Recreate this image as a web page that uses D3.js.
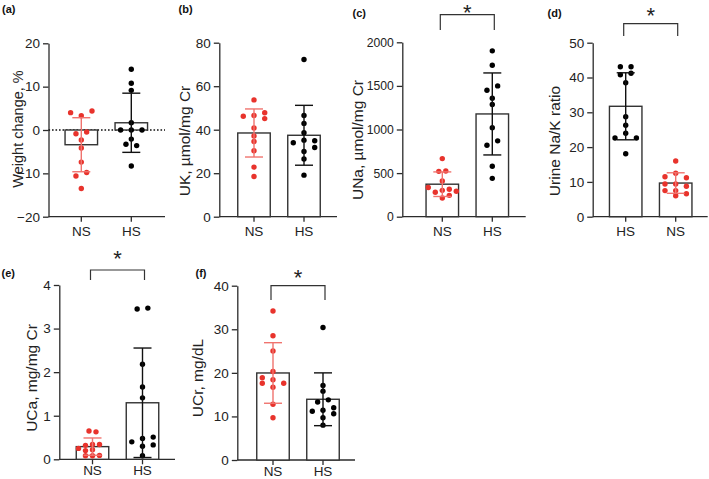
<!DOCTYPE html>
<html><head><meta charset="utf-8">
<script src="https://cdn.jsdelivr.net/npm/d3@7"></script>
<style>
body{margin:0;background:#fff}
svg{display:block;font-family:"Liberation Sans",Arial,Helvetica,sans-serif}
</style>
</head><body>
<svg id="chart" width="709" height="479"></svg>
<script>
// ---------- data ----------
const groups = ["NS", "HS"];
const groupsRatio = ["HS", "NS"];

const weightNS = [3.3, 4.0, 4.4, -0.46, -0.85, -2.3, -4.15, -7.4, -9.8, -10.6, -13.5];
const weightHS = [14.0, 10.8, 9.15, 1.7, 0.0, 0.0, 0.0, -2.1, -3.6, -3.3, -8.3];
const ukNS = [53.7, 46.5, 46.2, 47.8, 45.1, 40.8, 37.1, 34.6, 30.3, 22.8, 18.5];
const ukHS = [72.3, 46.5, 42.9, 38.6, 35.2, 34.0, 34.9, 30.0, 31.8, 26.5, 19.1];
const unaNS = [666, 524, 520, 409, 302, 280, 314, 335, 291, 245, 214];
const unaHS = [1902, 1737, 1500, 1450, 1358, 1286, 1021, 870, 820, 578, 440];
const ratioHS = [43.1, 43.1, 41.2, 40.8, 38.5, 28.7, 26.3, 24.0, 22.6, 22.6, 18.1];
const ratioNS = [16.0, 12.5, 11.5, 11.2, 9.4, 9.4, 8.75, 7.5, 7.5, 6.0, 6.6];
const ucaNS = [0.63, 0.65, 0.34, 0.32, 0.34, 0.25, 0.22, 0.20, 0.08, 0.08, 0.09];
const ucaHS = [3.47, 3.45, 2.18, 1.66, 1.41, 0.48, 0.40, 0.51, 0.30, 0.33, 0.08];
const ucrNS = [34.2, 28.5, 25.0, 20.3, 18.4, 18.9, 17.6, 17.6, 16.7, 12.8, 9.7];
const ucrHS = [30.4, 17.1, 15.8, 13.8, 13.3, 11.4, 11.2, 12.0, 10.6, 9.7, 8.0];

const ticksA = [-20, -10, 0, 10, 20];
const ticksB = [0, 20, 40, 60, 80];
const ticksC = [0, 500, 1000, 1500, 2000];
const ticksD = [0, 10, 20, 30, 40, 50];
const ticksE = [0, 1, 2, 3, 4];
const ticksF = [0, 10, 20, 30, 40];

const panelLabels = ["(a)", "(b)", "(c)", "(d)", "(e)", "(f)"];
const axisTitles = ["Weight change, %", "UK, µmol/mg Cr", "UNa, µmol/mg Cr", "Urine Na/K ratio", "UCa, mg/mg Cr", "UCr, mg/dL"];
const significant = [false, false, true, true, true, true];

// ---------- layout ----------
const colors = {NS: "#e8332c", HS: "#000000"};
const errColors = {NS: "#f0736e", HS: "#111111"};
const layout = [
  {ax: 48.5, inset: 32.8, xEnd: 165, yTop: 43.3, yBot: 216.7, titleX: 18, titleY: 129, titleF: 14.5, lab: [2, 13], tf: 13.5, zero: true},
  {ax: 219.3, inset: 34.7, xEnd: 337, yTop: 42.7, yBot: 216.7, titleX: 185, titleY: 141, titleF: 15.5, lab: [178.5, 13], tf: 13.5},
  {ax: 402.3, inset: 40, xEnd: 525.7, yTop: 42.3, yBot: 216.7, titleX: 358, titleY: 140, titleF: 15.5, lab: [352.5, 17], tf: 12.2, br: 14.7, drop: 30, star: 7.5},
  {ax: 592.7, inset: 33, xEnd: 707.7, yTop: 42.7, yBot: 216.7, titleX: 555, titleY: 141, titleF: 15.5, lab: [547.5, 17], tf: 13.5, br: 23.7, drop: 36, star: 10.8},
  {ax: 59.3, inset: 33.2, xEnd: 175, yTop: 285, yBot: 459.3, titleX: 31.7, titleY: 378, titleF: 15.5, lab: [1.5, 277], tf: 13.5, br: 270, drop: 280, star: 253.3, xlab: 475.5},
  {ax: 237.3, inset: 35.7, xEnd: 355, yTop: 285.7, yBot: 460, titleX: 197.7, titleY: 378, titleF: 15.5, lab: [195.5, 277], tf: 13.5, br: 285.7, drop: 300, star: 272.3, xlab: 475.5}
];

const panels = [
  {cats: groups, series: {NS: weightNS, HS: weightHS}, ticks: ticksA},
  {cats: groups, series: {NS: ukNS, HS: ukHS}, ticks: ticksB},
  {cats: groups, series: {NS: unaNS, HS: unaHS}, ticks: ticksC},
  {cats: groupsRatio, series: {HS: ratioHS, NS: ratioNS}, ticks: ticksD},
  {cats: groups, series: {NS: ucaNS, HS: ucaHS}, ticks: ticksE},
  {cats: groups, series: {NS: ucrNS, HS: ucrHS}, ticks: ticksF}
];

const svg = d3.select("#chart");
svg.append("rect").attr("width", 709).attr("height", 479).attr("fill", "#fff");

const AXIS = "#2b2b2b";
const DOT_R = 2.7, MIN_D = 5.1, STEP = 10.7, HALF_W = 14;

// Scatter layout: spread overlapping points sideways in columns
function swarm(vals, y) {
  const pts = vals.map(v => ({v, py: y(v), k: 0}));
  const order = [0, -1, 1, -2, 2, -3, 3];
  const placed = [];
  pts.forEach(p => {
    for (const k of order) {
      if (!placed.some(q => q.k === k && Math.abs(q.py - p.py) < MIN_D)) { p.k = k; break; }
    }
    placed.push(p);
  });
  const parent = d3.range(pts.length);
  const find = i => parent[i] === i ? i : (parent[i] = find(parent[i]));
  for (let i = 0; i < pts.length; i++)
    for (let j = i + 1; j < pts.length; j++)
      if (Math.abs(pts[i].py - pts[j].py) < MIN_D) parent[find(i)] = find(j);
  const comps = d3.group(d3.range(pts.length), i => find(i));
  comps.forEach(idx => {
    if (idx.length < 2) return;
    const clique = idx.every(i => idx.every(j => Math.abs(pts[i].py - pts[j].py) < MIN_D));
    if (clique) {
      const m = d3.mean(idx, i => pts[i].k);
      idx.forEach(i => pts[i].k -= m);
    }
  });
  const maxK = d3.max(pts, p => Math.abs(p.k));
  const s = maxK > 0 ? Math.min(STEP, HALF_W / maxK) : 0;
  pts.forEach(p => p.dx = p.k * s);
  return pts;
}

panels.forEach((p, pi) => {
  const L = layout[pi];
  const g = svg.append("g");
  const y = d3.scaleLinear().domain(d3.extent(p.ticks)).range([L.yBot, L.yTop]);
  const x = d3.scaleBand().domain(p.cats)
    .range([L.ax + L.inset - 16.25, L.ax + L.inset + 50 + 16.25])
    .paddingInner(0.35).paddingOuter(0);
  const bw = x.bandwidth();

  // y axis
  const yAxis = d3.axisLeft(y).tickValues(p.ticks).tickSize(5.5).tickSizeOuter(0).tickPadding(3).tickFormat(d3.format("d"));
  const ya = g.append("g").attr("transform", `translate(${L.ax},0)`).call(yAxis);
  ya.attr("font-family", null);
  ya.select(".domain").attr("stroke", AXIS).attr("stroke-width", 1.3);
  ya.selectAll(".tick line").attr("stroke", AXIS).attr("stroke-width", 1.3);
  ya.selectAll(".tick text").attr("font-size", L.tf).attr("fill", "#222");

  // x axis baseline and ticks
  g.append("line").attr("x1", L.ax).attr("x2", L.xEnd).attr("y1", L.yBot).attr("y2", L.yBot)
    .attr("stroke", AXIS).attr("stroke-width", 1.3);
  const xAxis = d3.axisBottom(x).tickSize(5).tickSizeOuter(0).tickPadding(5);
  const xa = g.append("g").attr("transform", `translate(0,${L.yBot})`).call(xAxis);
  xa.attr("font-family", null);
  xa.select(".domain").remove();
  xa.selectAll(".tick line").attr("stroke", AXIS).attr("stroke-width", 1.3);
  const xt = xa.selectAll(".tick text").attr("font-size", 13.5).attr("fill", "#222");
  if (L.xlab) xt.attr("y", L.xlab - L.yBot).attr("dy", null);

  // zero reference line
  if (L.zero) {
    g.append("line").attr("x1", L.ax).attr("x2", L.xEnd).attr("y1", y(0)).attr("y2", y(0))
      .attr("stroke", "#111").attr("stroke-width", 1.6).attr("stroke-dasharray", "1.6,1.9");
  }

  // bars (mean)
  p.cats.forEach(c => {
    const vals = p.series[c];
    const m = d3.mean(vals);
    g.append("rect")
      .attr("x", x(c)).attr("width", bw)
      .attr("y", Math.min(y(m), y(0))).attr("height", Math.abs(y(m) - y(0)))
      .attr("fill", "#fff").attr("stroke", "#333").attr("stroke-width", 1.4);
  });

  // dots
  p.cats.forEach(c => {
    const cx = x(c) + bw / 2;
    const pts = swarm(p.series[c], y);
    g.append("g").selectAll("circle").data(pts).join("circle")
      .attr("cx", d => cx + d.dx).attr("cy", d => d.py).attr("r", DOT_R)
      .attr("fill", colors[c]);
  });

  // error bars (mean ± SD)
  p.cats.forEach(c => {
    const vals = p.series[c];
    const m = d3.mean(vals), sd = d3.deviation(vals);
    const cx = x(c) + bw / 2;
    const eg = g.append("g").attr("stroke", errColors[c]).attr("stroke-width", 1.4);
    eg.append("line").attr("x1", cx).attr("x2", cx).attr("y1", y(m - sd)).attr("y2", y(m + sd));
    [m - sd, m + sd].forEach(v => {
      eg.append("line").attr("x1", cx - 9).attr("x2", cx + 9).attr("y1", y(v)).attr("y2", y(v));
    });
  });

  // significance bracket
  if (significant[pi]) {
    const x1 = x(p.cats[0]) + bw / 2 - 2, x2 = x(p.cats[1]) + bw / 2 + 2;
    g.append("path")
      .attr("d", `M${x1},${L.drop}V${L.br}H${x2}V${L.drop}`)
      .attr("fill", "none").attr("stroke", "#333").attr("stroke-width", 1.2);
    g.append("text").attr("x", (x1 + x2) / 2).attr("y", L.star + 12.6)
      .attr("text-anchor", "middle").attr("font-size", 22).attr("fill", "#222").text("*");
  }

  // axis title
  g.append("text")
    .attr("transform", `translate(${L.titleX + 5},${L.titleY}) rotate(-90)`)
    .attr("text-anchor", "middle").attr("font-size", L.titleF).attr("fill", "#222")
    .text(axisTitles[pi]);

  // panel label
  g.append("text").attr("x", L.lab[0]).attr("y", L.lab[1])
    .attr("font-size", 11).attr("font-weight", "bold").attr("fill", "#111")
    .text(panelLabels[pi]);
});
</script>
</body></html>
